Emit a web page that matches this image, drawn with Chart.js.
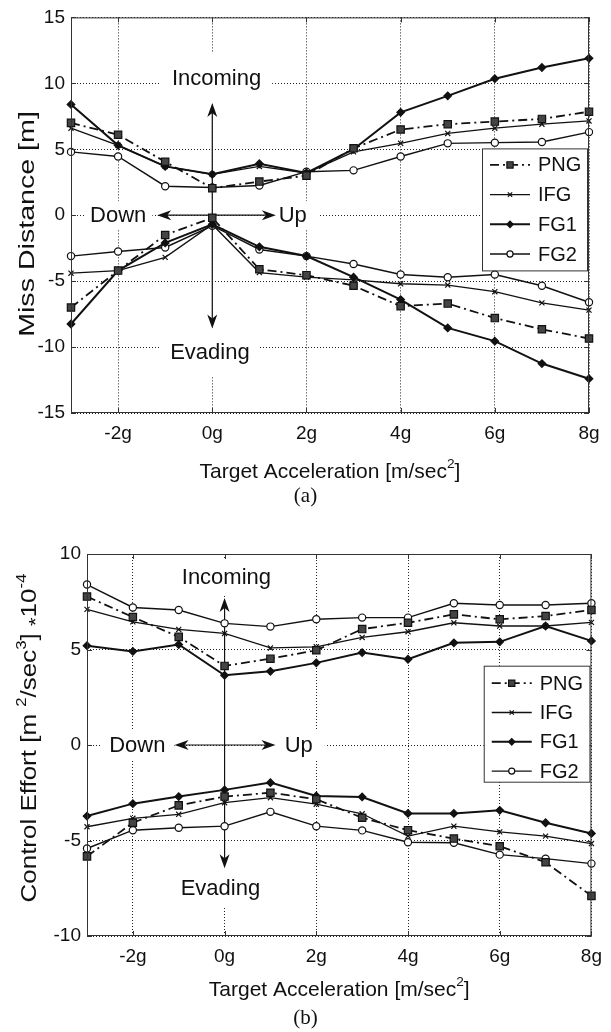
<!DOCTYPE html>
<html lang="en">
<head>
  <meta charset="UTF-8" />
  <title>Miss distance and control effort vs target acceleration</title>
  <style>
    body {
      margin: 0;
      background: #fff;
      width: 611px;
      height: 1032px;
      overflow: hidden;
      position: relative;
    }
    canvas {
      position: absolute;
      left: 0;
    }
    #chartA { top: 0; }
    #chartB { top: 520px; }
    .caption {
      position: absolute;
      left: 0;
      width: 611px;
      height: 24px;
      line-height: 24px;
      text-align: center;
      font-family: 'Liberation Serif', 'Times New Roman', serif;
      font-size: 21px;
      color: #111;
    }
  </style>
</head>
<body>
  <canvas id="chartA" width="611" height="484"></canvas>
  <div class="caption" style="top:483px">(a)</div>
  <canvas id="chartB" width="611" height="484"></canvas>
  <div class="caption" style="top:1005px">(b)</div>

  <script src="https://cdn.jsdelivr.net/npm/chart.js"></script>
  <script>
    const FONT = "'Liberation Sans', Arial, Helvetica, sans-serif";

    // target acceleration in g
    const accel = [-3, -2, -1, 0, 1, 2, 3, 4, 5, 6, 7, 8];
    const xTicks = [-2, 0, 2, 4, 6, 8];
    const xTickLabels = ['-2g', '0g', '2g', '4g', '6g', '8g'];
    const missTicks = [-15, -10, -5, 0, 5, 10, 15];
    const effortTicks = [-10, -5, 0, 5, 10];

    // (a) miss distance [m], incoming branch
    const missInPNG = [7.0, 6.1, 4.05, 2.05, 2.55, 3.0, 5.07, 6.5, 6.9, 7.1, 7.3, 7.85];
    const missInIFG = [6.6, 5.3, 3.7, 3.1, 3.7, 3.2, 4.8, 5.45, 6.2, 6.6, 6.9, 7.15];
    const missInFG1 = [8.4, 5.3, 3.7, 3.1, 3.9, 3.2, 5.0, 7.8, 9.05, 10.35, 11.2, 11.9];
    const missInFG2 = [4.8, 4.45, 2.2, 2.1, 2.25, 3.3, 3.4, 4.45, 5.45, 5.5, 5.55, 6.3];
    // (a) evading branch
    const missOutPNG = [-7.0, -4.2, -1.5, -0.2, -4.1, -4.55, -5.35, -6.9, -6.7, -7.8, -8.65, -9.35];
    const missOutIFG = [-4.4, -4.2, -3.2, -0.7, -4.35, -4.7, -4.9, -5.2, -5.3, -5.8, -6.65, -7.2];
    const missOutFG1 = [-8.25, -4.2, -2.1, -0.7, -2.4, -3.1, -4.7, -6.4, -8.55, -9.55, -11.25, -12.4];
    const missOutFG2 = [-3.1, -2.75, -2.45, -0.8, -2.6, -3.1, -3.7, -4.5, -4.7, -4.5, -5.35, -6.6];

    // (b) control effort *1e-4, incoming branch
    const effInPNG = [7.77, 6.7, 5.66, 4.14, 4.52, 4.96, 6.07, 6.4, 6.84, 6.58, 6.75, 7.07];
    const effInIFG = [7.1, 6.45, 6.05, 5.84, 5.08, 5.14, 5.63, 5.93, 6.4, 6.23, 6.23, 6.42];
    const effInFG1 = [5.2, 4.9, 5.26, 3.65, 3.86, 4.3, 4.84, 4.49, 5.35, 5.4, 6.23, 5.45];
    const effInFG2 = [8.4, 7.2, 7.07, 6.37, 6.2, 6.58, 6.67, 6.67, 7.42, 7.33, 7.33, 7.42];
    // (b) evading branch
    const effOutPNG = [-5.83, -4.07, -3.16, -2.7, -2.5, -2.84, -3.81, -4.46, -4.9, -5.3, -6.14, -7.9];
    const effOutIFG = [-4.28, -3.84, -3.63, -3.02, -2.76, -3.1, -3.6, -4.77, -4.25, -4.55, -4.77, -5.16];
    const effOutFG1 = [-3.72, -3.07, -2.7, -2.35, -1.97, -2.67, -2.72, -3.58, -3.58, -3.42, -4.07, -4.63];
    const effOutFG2 = [-5.42, -4.46, -4.33, -4.25, -3.5, -4.25, -4.47, -5.09, -5.12, -5.74, -5.95, -6.21];

    const lineStyles = {
      PNG: { width: 1.8, dash: [9, 4, 2, 4], marker: 'rect', radius: 5.2, fill: '#444' },
      IFG: { width: 1.3, dash: [], marker: 'crossRot', radius: 3.6, fill: '#111' },
      FG1: { width: 2, dash: [], marker: 'rectRot', radius: 3.8, fill: '#111' },
      FG2: { width: 1.4, dash: [], marker: 'circle', radius: 3.6, fill: '#fff' }
    };

    function series(name, values) {
      const st = lineStyles[name];
      return {
        label: name,
        data: accel.map((a, i) => ({ x: a, y: values[i] })),
        borderColor: '#111',
        borderWidth: st.width,
        borderDash: st.dash,
        pointStyle: st.marker,
        pointRadius: st.radius,
        pointBackgroundColor: st.fill,
        pointBorderColor: '#111',
        pointBorderWidth: 1.2,
        tension: 0,
        fill: false,
        clip: false
      };
    }

    // text made of plain and superscript pieces, centred on cx
    function drawRich(ctx, segs, size, cx, baseY) {
      const pieces = segs.map(s => {
        const fs = size * (s.sup ? 0.65 : 1) * (s.scale || 1);
        ctx.font = fs + 'px ' + FONT;
        return { t: s.t, fs: fs, w: ctx.measureText(s.t).width, dy: s.sup ? -size * 0.45 : (s.dy || 0) };
      });
      let x = cx - pieces.reduce((a, p) => a + p.w, 0) / 2;
      pieces.forEach(p => {
        ctx.font = p.fs + 'px ' + FONT;
        ctx.fillText(p.t, x, baseY + p.dy);
        x += p.w;
      });
    }

    function drawArrow(ctx, x1, y1, x2, y2) {
      const ang = Math.atan2(y2 - y1, x2 - x1);
      const L = 14, W = 5, N = 10;
      ctx.beginPath();
      ctx.moveTo(x1, y1);
      ctx.lineTo(x2 - Math.cos(ang) * N, y2 - Math.sin(ang) * N);
      ctx.stroke();
      ctx.save();
      ctx.translate(x2, y2);
      ctx.rotate(ang);
      ctx.beginPath();
      ctx.moveTo(0, 0);
      ctx.lineTo(-L, -W);
      ctx.lineTo(-N, 0);
      ctx.lineTo(-L, W);
      ctx.closePath();
      ctx.fill();
      ctx.restore();
    }

    function decor(cfg) {
      return {
        id: 'decor',
        beforeDatasetsDraw(chart) {
          const ctx = chart.ctx, xs = chart.scales.x, ys = chart.scales.y;
          ctx.save();
          ctx.font = '22px ' + FONT;
          ctx.textBaseline = 'middle';
          ctx.textAlign = 'left';
          cfg.labels.forEach(l => {
            const px = xs.getPixelForValue(l.x), py = ys.getPixelForValue(l.y);
            const w = ctx.measureText(l.text).width;
            const left = l.align === 'right' ? px - w : (l.align === 'left' ? px : px - w / 2);
            ctx.fillStyle = '#fff';
            ctx.fillRect(left - l.padX, py - 12 - l.padY, w + 2 * l.padX, 24 + 2 * l.padY);
            ctx.fillStyle = '#111';
            ctx.fillText(l.text, left, py + 1);
          });
          ctx.strokeStyle = '#111';
          ctx.fillStyle = '#111';
          ctx.lineWidth = 1.2;
          cfg.arrows.forEach(a => drawArrow(ctx,
            xs.getPixelForValue(a[0]), ys.getPixelForValue(a[1]),
            xs.getPixelForValue(a[2]), ys.getPixelForValue(a[3])));
          ctx.restore();
        },
        afterDraw(chart) {
          const ctx = chart.ctx, area = chart.chartArea, xs = chart.scales.x, ys = chart.scales.y;
          ctx.save();
          // box and inner ticks
          ctx.strokeStyle = '#333';
          ctx.lineWidth = 1;
          ctx.setLineDash([]);
          ctx.strokeRect(area.left + 0.5, area.top + 0.5, area.width - 1, area.height - 1);
          ctx.beginPath();
          xTicks.forEach(v => {
            const px = Math.round(xs.getPixelForValue(v)) + 0.5;
            ctx.moveTo(px, area.bottom); ctx.lineTo(px, area.bottom - 5);
            ctx.moveTo(px, area.top); ctx.lineTo(px, area.top + 5);
          });
          cfg.yTicks.forEach(v => {
            const py = Math.round(ys.getPixelForValue(v)) + 0.5;
            ctx.moveTo(area.left, py); ctx.lineTo(area.left + 5, py);
            ctx.moveTo(area.right, py); ctx.lineTo(area.right - 5, py);
          });
          ctx.stroke();

          // axis titles
          ctx.fillStyle = '#111';
          ctx.textAlign = 'left';
          ctx.textBaseline = 'alphabetic';
          drawRich(ctx, cfg.xTitle, 21, (area.left + area.right) / 2, cfg.xTitleY + 21 * 0.36);
          ctx.save();
          ctx.translate(cfg.yTitleX, cfg.yTitleY);
          ctx.rotate(-Math.PI / 2);
          ctx.scale(cfg.yTitleStretch, 1);
          drawRich(ctx, cfg.yTitle, 22, 0, 22 * 0.36);
          ctx.restore();

          // legend box
          const lg = cfg.legend;
          const lx = area.right - lg.right - lg.width, ly = area.top + lg.top;
          ctx.fillStyle = '#fff';
          ctx.fillRect(lx, ly, lg.width, lg.height);
          ctx.strokeStyle = '#333';
          ctx.lineWidth = 1;
          ctx.strokeRect(lx + 0.5, ly + 0.5, lg.width, lg.height);
          chart.data.datasets.slice(0, 4).forEach((ds, i) => {
            const y = ly + lg.first + i * lg.gap;
            ctx.strokeStyle = ds.borderColor;
            ctx.lineWidth = ds.borderWidth;
            ctx.setLineDash(ds.borderDash);
            ctx.beginPath();
            ctx.moveTo(lx + 8, y);
            ctx.lineTo(lx + 48, y);
            ctx.stroke();
            ctx.setLineDash([]);
            ctx.fillStyle = ds.pointBackgroundColor;
            ctx.strokeStyle = ds.pointBorderColor;
            ctx.lineWidth = ds.pointBorderWidth;
            if (Chart.helpers && Chart.helpers.drawPoint) {
              Chart.helpers.drawPoint(ctx, {
                pointStyle: ds.pointStyle, radius: ds.pointRadius * 0.85,
                rotation: 0, borderWidth: ds.pointBorderWidth
              }, lx + 28, y);
            }
            ctx.fillStyle = '#111';
            ctx.font = '20px ' + FONT;
            ctx.textBaseline = 'middle';
            ctx.fillText(ds.label, lx + 56, y + 1);
          });
          ctx.restore();
        }
      };
    }

    function makeChart(id, cfg) {
      const tickFont = { family: FONT, size: 19 };
      const grid = { color: '#222', lineWidth: 1, drawTicks: false };
      const border = { display: false, dash: [1, 2] };
      return new Chart(document.getElementById(id), {
        type: 'line',
        data: { datasets: cfg.datasets },
        options: {
          responsive: false,
          animation: false,
          events: [],
          layout: { padding: cfg.padding },
          plugins: { legend: { display: false }, tooltip: { enabled: false } },
          scales: {
            x: {
              type: 'linear',
              min: -3,
              max: 8,
              afterBuildTicks: s => { s.ticks = xTicks.map(v => ({ value: v })); },
              afterFit: s => { s.height = cfg.xAxisHeight; },
              ticks: {
                autoSkip: false, maxRotation: 0, padding: 9, color: '#111', font: tickFont,
                callback: v => xTickLabels[xTicks.indexOf(v)]
              },
              grid: grid,
              border: border
            },
            y: {
              type: 'linear',
              min: cfg.yTicks[0],
              max: cfg.yTicks[cfg.yTicks.length - 1],
              afterBuildTicks: s => { s.ticks = cfg.yTicks.map(v => ({ value: v })); },
              afterFit: s => { s.width = cfg.yAxisWidth; },
              ticks: { padding: 6, color: '#111', font: tickFont, callback: v => String(v) },
              grid: grid,
              border: border
            }
          }
        },
        plugins: [decor(cfg)]
      });
    }

    const xTitle = [{ t: 'Target Acceleration [m/sec' }, { t: '2', sup: true }, { t: ']' }];

    makeChart('chartA', {
      datasets: [
        series('PNG', missInPNG), series('IFG', missInIFG), series('FG1', missInFG1), series('FG2', missInFG2),
        series('PNG', missOutPNG), series('IFG', missOutIFG), series('FG1', missOutFG1), series('FG2', missOutFG2)
      ],
      yTicks: missTicks,
      padding: { top: 15, right: 22, left: 0, bottom: 0 },
      yAxisWidth: 71,
      xAxisHeight: 71,
      xTitle: xTitle,
      xTitleY: 470,
      yTitle: [{ t: 'Miss Distance [m]' }],
      yTitleX: 26,
      yTitleY: 224,
      yTitleStretch: 1.3,
      legend: { right: 2, top: 131, width: 105, height: 122, first: 16.5, gap: 29.7 },
      labels: [
        { text: 'Incoming', x: 0.09, y: 10.4, align: 'center', padX: 11, padY: 13 },
        { text: 'Evading', x: -0.05, y: -10.38, align: 'center', padX: 10, padY: 12 },
        { text: 'Down', x: -1.4, y: 0, align: 'right', padX: 6, padY: 2 },
        { text: 'Up', x: 1.41, y: 0, align: 'left', padX: 12, padY: 2 }
      ],
      arrows: [[0, 0, 0, 8.5], [0, 0, 0, -8.6], [0, 0, -1.17, 0], [0, 0, 1.35, 0]]
    });

    makeChart('chartB', {
      datasets: [
        series('PNG', effInPNG), series('IFG', effInIFG), series('FG1', effInFG1), series('FG2', effInFG2),
        series('PNG', effOutPNG), series('IFG', effOutIFG), series('FG1', effOutFG1), series('FG2', effOutFG2)
      ],
      yTicks: effortTicks,
      padding: { top: 34, right: 18, left: 0, bottom: 0 },
      yAxisWidth: 87,
      xAxisHeight: 68,
      xTitle: xTitle,
      xTitleY: 468,
      yTitle: [
        { t: 'Control Effort [m ' }, { t: '2', sup: true }, { t: '/sec' }, { t: '3', sup: true },
        { t: '] ' }, { t: '*', dy: 6, scale: 0.85 }, { t: '10' }, { t: '-4', sup: true }
      ],
      yTitleX: 28,
      yTitleY: 218,
      yTitleStretch: 1.18,
      legend: { right: 2, top: 111.7, width: 105.7, height: 116, first: 17.5, gap: 29.3 },
      labels: [
        { text: 'Incoming', x: 0.04, y: 8.79, align: 'center', padX: 8, padY: 6 },
        { text: 'Evading', x: -0.09, y: -7.46, align: 'center', padX: 8, padY: 8 },
        { text: 'Down', x: -1.29, y: 0, align: 'right', padX: 9, padY: 2 },
        { text: 'Up', x: 1.31, y: 0, align: 'left', padX: 12, padY: 2 }
      ],
      arrows: [[0, 0, 0, 7.7], [0, 0, 0, -6.45], [0, 0, -1.09, 0], [0, 0, 1.11, 0]]
    });
  </script>
</body>
</html>
